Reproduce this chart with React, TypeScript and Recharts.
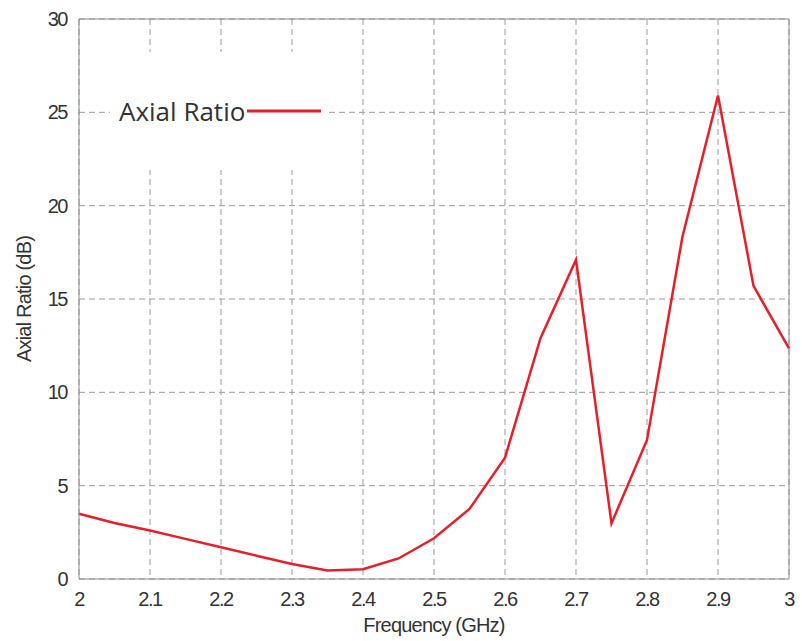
import {
  CartesianGrid,
  Line,
  LineChart,
  ReferenceLine,
  XAxis,
  YAxis,
} from "recharts";

const frequency = [
  2.0, 2.05, 2.1, 2.15, 2.2, 2.25, 2.3, 2.35, 2.4, 2.45, 2.5, 2.55, 2.6, 2.65,
  2.7, 2.75, 2.8, 2.85, 2.9, 2.95, 3.0,
];
const axialRatio = [
  3.5, 3.0, 2.6, 2.15, 1.7, 1.25, 0.8, 0.45, 0.52, 1.1, 2.18, 3.75, 6.5, 12.9,
  17.1, 2.98, 7.45, 18.35, 25.9, 15.7, 12.36,
];
const xTicks = [2, 2.1, 2.2, 2.3, 2.4, 2.5, 2.6, 2.7, 2.8, 2.9, 3];
const yTicks = [0, 5, 10, 15, 20, 25, 30];

const data = frequency.map((f, i) => ({ f, ar: axialRatio[i] }));

const RED = "#e3202b";
const GRID = "#9a9a9a";
const FRAME = "#8c8c8c";
const FONT = "Liberation Sans, Arial, sans-serif";
const tickStyle = {
  fontFamily: FONT,
  fontSize: 20,
  fill: "#333",
  letterSpacing: -1.5,
};
const titleStyle = {
  fontFamily: FONT,
  fontSize: 20,
  fill: "#333",
  letterSpacing: -0.8,
};

// legend sits over the plot on a white patch, like the original figure
function LegendBox() {
  return (
    <div
      style={{
        position: "absolute",
        left: 110,
        top: 52,
        width: 218,
        height: 118,
        background: "#fff",
        display: "flex",
        alignItems: "center",
        paddingLeft: 9,
        boxSizing: "border-box",
      }}
    >
      <span
        style={{
          fontFamily: "Open Sans, sans-serif",
          fontSize: 26,
          color: "#333",
          lineHeight: 1,
        }}
      >
        Axial Ratio
      </span>
      <svg width={78} height={6} style={{ marginLeft: 2 }}>
        <line x1={0} y1={3} x2={74} y2={3} stroke={RED} strokeWidth={3} />
      </svg>
    </div>
  );
}

export default function App() {
  return (
    <div
      style={{
        position: "absolute",
        left: 0,
        top: 0,
        width: 802,
        height: 641,
        background: "#fff",
      }}
    >
      <LineChart
        width={802}
        height={641}
        data={data}
        margin={{ top: 19, right: 13, bottom: 0, left: 0 }}
      >
        <CartesianGrid
          stroke={GRID}
          strokeDasharray="6 4"
          verticalValues={xTicks}
          horizontalValues={yTicks}
        />
        <XAxis
          dataKey="f"
          type="number"
          domain={[2, 3]}
          ticks={xTicks}
          height={62}
          stroke={FRAME}
          tickLine={false}
          tick={tickStyle}
          tickMargin={7}
          label={{
            value: "Frequency (GHz)",
            position: "insideBottom",
            offset: 9,
            style: titleStyle,
          }}
        />
        <YAxis
          type="number"
          domain={[0, 30]}
          ticks={yTicks}
          width={79}
          stroke={FRAME}
          tickLine={false}
          tick={tickStyle}
          tickMargin={6}
          label={{
            value: "Axial Ratio (dB)",
            angle: -90,
            position: "insideLeft",
            offset: 24,
            style: { ...titleStyle, textAnchor: "middle" },
          }}
        />
        <ReferenceLine y={30} stroke={FRAME} strokeWidth={1} />
        <ReferenceLine x={3} stroke={FRAME} strokeWidth={1} />
        <Line
          type="linear"
          dataKey="ar"
          stroke={RED}
          strokeWidth={2.5}
          dot={false}
          isAnimationActive={false}
        />
      </LineChart>
      <LegendBox />
    </div>
  );
}
